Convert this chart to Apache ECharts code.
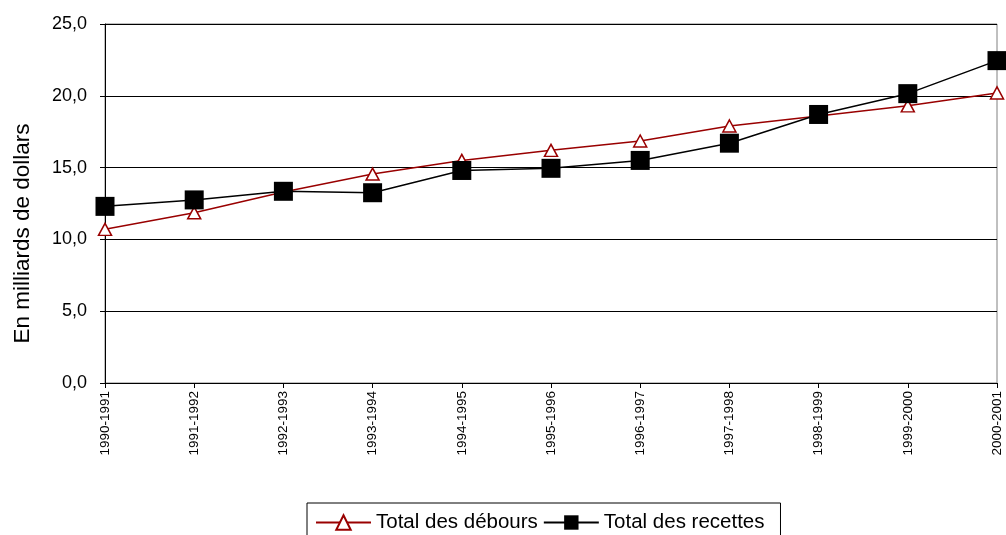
<!DOCTYPE html>
<html>
<head>
<meta charset="utf-8">
<script src="https://cdn.jsdelivr.net/npm/echarts@6/dist/echarts.min.js"></script>
<style>
html,body{margin:0;padding:0;background:#fff;}
#chart{width:1006px;height:535px;}
</style>
</head>
<body>
<div id="chart"></div>
<script>
// Exercices financiers
const categories = ['1990-1991','1991-1992','1992-1993','1993-1994','1994-1995','1995-1996','1996-1997','1997-1998','1998-1999','1999-2000','2000-2001'];
// En milliards de dollars
const debours = [10.7, 11.85, 13.3, 14.55, 15.5, 16.2, 16.85, 17.9, 18.6, 19.3, 20.2];
const recettes = [12.3, 12.75, 13.35, 13.25, 14.8, 14.95, 15.5, 16.7, 18.7, 20.15, 22.45];
const seriesNames = ['Total des débours', 'Total des recettes'];

const chart = echarts.init(document.getElementById('chart'));
const fontSans = '"Liberation Sans", Arial, sans-serif';

chart.setOption({
  animation: false,
  backgroundColor: '#fff',
  grid: { left: 105, right: 9, top: 24, bottom: 152, containLabel: false, show: true, borderColor: '#808080', borderWidth: 1 },
  xAxis: {
    type: 'category',
    data: categories,
    boundaryGap: false,
    axisLine: { lineStyle: { color: '#000', width: 1 } },
    axisTick: { show: true, length: 5, alignWithLabel: true, lineStyle: { color: '#000' } },
    axisLabel: {
      rotate: 90, interval: 0, margin: 8,
      fontFamily: fontSans,
      fontSize: 13.5, color: '#000'
    },
    splitLine: { show: false }
  },
  yAxis: {
    type: 'value',
    min: 0, max: 25, interval: 5,
    name: 'En milliards de dollars',
    nameLocation: 'middle',
    nameGap: 71,
    nameRotate: 90,
    nameTextStyle: { fontFamily: fontSans, fontSize: 22.5, color: '#000', padding: [0, 60, 0, 0] },
    axisLine: { show: true, lineStyle: { color: '#000', width: 1 } },
    axisTick: { show: true, length: 5, lineStyle: { color: '#000' } },
    axisLabel: {
      fontFamily: fontSans, fontSize: 18, color: '#000', margin: 18,
      formatter: v => v.toFixed(1).replace('.', ',')
    },
    splitLine: { show: true, lineStyle: { color: '#000', width: 1 } }
  },
  legend: {
    data: seriesNames,
    left: 307, top: 503,
    orient: 'horizontal',
    itemWidth: 55, itemHeight: 18, itemGap: 5,
    padding: [9, 16, 10, 8],
    borderColor: '#000', borderWidth: 1,
    textStyle: { fontFamily: fontSans, fontSize: 20.5, color: '#000' }
  },
  series: [
    {
      name: seriesNames[0],
      type: 'line',
      data: debours,
      color: '#990000',
      lineStyle: { color: '#990000', width: 1.5 },
      symbol: 'triangle',
      symbolSize: [13, 12],
      itemStyle: { color: '#fff', borderColor: '#990000', borderWidth: 1.5 },
      showAllSymbol: true,
      z: 2
    },
    {
      name: seriesNames[1],
      type: 'line',
      data: recettes,
      color: '#000',
      lineStyle: { color: '#000', width: 1.5 },
      symbol: 'rect',
      symbolSize: 19,
      itemStyle: { color: '#000', borderColor: '#000', borderWidth: 0 },
      showAllSymbol: true,
      z: 3
    }
  ]
});
</script>
</body>
</html>
